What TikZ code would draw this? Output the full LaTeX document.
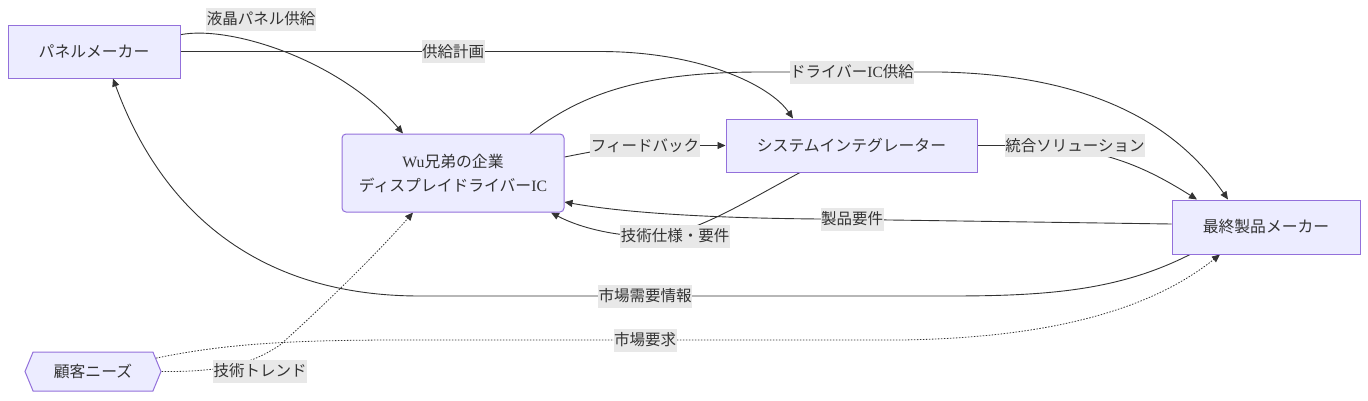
\documentclass[tikz,border=0pt]{standalone}
\usepackage{fontspec}
\setmainfont{Noto Sans CJK JP}
\newfontfamily\latinserif{Liberation Serif}
\usetikzlibrary{shapes.symbols,arrows.meta,backgrounds}
\definecolor{nodefill}{HTML}{ECECFF}
\definecolor{nodeline}{HTML}{9370DB}
\definecolor{edgecol}{HTML}{333333}
\definecolor{lblfill}{HTML}{E8E8E8}
\definecolor{txtcol}{HTML}{333333}
\begin{document}
\begin{tikzpicture}[x=1pt,y=-1pt,
  box/.style={draw=nodeline, fill=nodefill, line width=1pt, text=txtcol,
    font=\fontsize{15.8}{24}\selectfont, align=center, inner sep=0pt},
  hexa/.style={box, signal, signal to=west and east, signal pointer angle=135},
  lbl/.style={fill=lblfill, text=txtcol, font=\fontsize{15.5}{20}\selectfont,
    inner xsep=0.5pt, inner ysep=0pt, minimum height=23pt},
  edge/.style={draw=edgecol, line width=0.9pt, -{Triangle[length=8pt,width=7pt]}},
  dotedge/.style={edge, line width=0.8pt, dash pattern=on 1.5pt off 1.5pt}]
\useasboundingbox (0,0) rectangle (1368,400);
% nodes
\node[box, minimum width=172pt, minimum height=53pt] (P) at (94,51.5) {パネルメーカー};
\node[box, rounded corners=4pt, minimum width=222pt, minimum height=78pt] (W) at (453,173)
  {{\latinserif Wu}兄弟の企業\\ディスプレイドライバー{\latinserif IC}};
\node[box, minimum width=251pt, minimum height=53pt] (S) at (851.5,145.5) {システムインテグレーター};
\node[box, minimum width=188pt, minimum height=54pt] (E) at (1266,227) {最終製品メーカー};
\node[hexa, minimum width=136pt, minimum height=39pt] (C) at (93,371.5) {顧客ニーズ};
% edges
\begin{pgfonlayer}{background}
\draw[edge] (P.11) .. controls (230,25) and (340,60) .. ([xshift=-50pt]W.north);
\draw[edge] (P.east) -- (600,51.5) .. controls (700,51.5) and (770,85) .. ([xshift=-58.5pt]S.north);
\draw[edge] ([xshift=77pt]W.north) .. controls (580,95) and (640,72) .. (760,72) -- (940,72)
  .. controls (1100,75) and (1180,130) .. ([xshift=-38pt]E.north);
\draw[edge] ([yshift=16pt]W.east) .. controls (600,150) .. (645,145.5) -- (S.west);
\draw[edge] (S.east) -- (1040,145.5) .. controls (1110,150) and (1150,170) .. ([xshift=-69pt]E.north);
\draw[edge] ([xshift=-51.5pt]S.south) .. controls (740,205) and (700,230) .. (660,236)
  .. controls (620,238) and (580,228) .. ([xshift=98pt]W.south);
\draw[edge] ([yshift=3pt]E.west) -- (820,219) .. controls (700,218) and (620,212) .. ([yshift=-29pt]W.east);
\draw[edge] ([xshift=-76pt]E.south) .. controls (1120,290) and (1050,296) .. (950,296) -- (420,296)
  .. controls (230,296) and (150,180) .. ([xshift=19pt]P.south);
\draw[dotedge] (C.12) .. controls (220,345) and (280,340) .. (400,340) -- (900,340)
  .. controls (1050,338) and (1150,310) .. ([xshift=-46pt]E.south);
\draw[dotedge] (C.east) .. controls (220,372) and (250,365) .. (280,345)
  .. controls (330,300) and (380,250) .. ([xshift=-40pt]W.south);
\end{pgfonlayer}
% labels
\node[lbl] (L1) at (261,19) {液晶パネル供給};
\node[lbl] (L2) at (453,51.5) {供給計画};
\node[lbl] (L3) at (852,72) {ドライバー{\latinserif IC}供給};
\node[lbl] (L4) at (645,145.5) {フィードバック};
\node[lbl] (L5) at (1075,145.5) {統合ソリューション};
\node[lbl] (L6) at (675,236) {技術仕様・要件};
\node[lbl] (L7) at (852,219) {製品要件};
\node[lbl] (L8) at (645,296) {市場需要情報};
\node[lbl] (L9) at (645,340) {市場要求};
\node[lbl] (L10) at (260,371) {技術トレンド};
\end{tikzpicture}
\end{document}
